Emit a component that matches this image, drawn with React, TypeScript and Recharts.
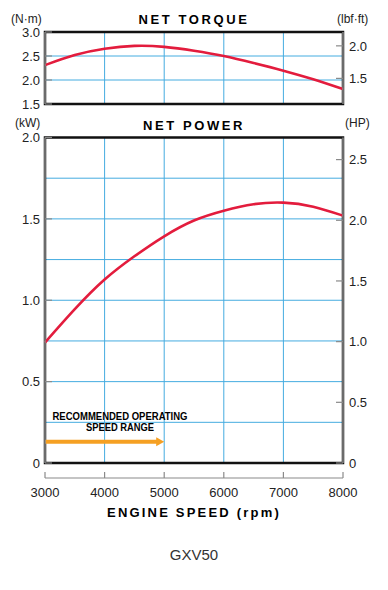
import React from "react";
import {
  LineChart,
  Line,
  XAxis,
  YAxis,
  CartesianGrid,
  ReferenceArea,
  ReferenceLine,
} from "recharts";

// engine speed (rpm)
const rpm = [3000, 3500, 4000, 4500, 5000, 5500, 6000, 6500, 7000, 7500, 8000];
// net torque, N·m
const torqueNm = [2.31, 2.52, 2.65, 2.71, 2.69, 2.61, 2.5, 2.355, 2.195, 2.015, 1.81];
// net power, kW
const powerKw = [0.74, 0.945, 1.127, 1.27, 1.393, 1.49, 1.55, 1.59, 1.6, 1.575, 1.52];

const rpmTicks = [3000, 4000, 5000, 6000, 7000, 8000];
const nmTicks = [1.5, 2.0, 2.5, 3.0];
const lbfTicks = [1.5, 2.0];
const kwTicks = [0, 0.25, 0.5, 0.75, 1.0, 1.25, 1.5, 1.75, 2.0]; // labelled every 0.5
const hpTicks = [0, 0.5, 1.0, 1.5, 2.0, 2.5];

// recommended operating speed range
const rangeStart = 3000;
const rangeEnd = 5000;
const rangeLevel = 0.13;

const NM_TO_LBF = 0.7376;
const KW_TO_HP = 1 / 0.7457;

const torqueData = rpm.map((r, i) => ({
  rpm: r,
  torque: torqueNm[i],
  torqueLbf: torqueNm[i] * NM_TO_LBF,
}));
const powerData = rpm.map((r, i) => ({
  rpm: r,
  power: powerKw[i],
  powerHp: powerKw[i] * KW_TO_HP,
}));

const FONT = "'Liberation Sans', Arial, sans-serif";
const AXIS_GRAY = "#8a8a8a";
const GRID_BLUE = "#45ace0";
const CURVE_RED = "#e31c3d";
const ORANGE = "#f5a023";

const fmt = (v: number) => (v === 0 ? "0" : v.toFixed(1));
const labelled = (v: number) => Math.abs(v * 2 - Math.round(v * 2)) < 1e-6;

const LeftTick = (props: any) => {
  const { x, y, payload } = props;
  if (!labelled(payload.value)) return <g />;
  const ax = x + 5;
  return (
    <g>
      <line x1={ax} y1={y} x2={ax + 7} y2={y} stroke={AXIS_GRAY} strokeWidth={1.2} />
      <text x={x} y={y} dy="0.36em" textAnchor="end" fontSize={13} fill="#222" fontFamily={FONT}>
        {fmt(payload.value)}
      </text>
    </g>
  );
};

const RightTick = (props: any) => {
  const { x, y, payload } = props;
  const ax = x - 6;
  return (
    <g>
      <line x1={ax - 7} y1={y} x2={ax} y2={y} stroke={AXIS_GRAY} strokeWidth={1.2} />
      <text x={x} y={y} dy="0.36em" textAnchor="start" fontSize={13} fill="#222" fontFamily={FONT}>
        {fmt(payload.value)}
      </text>
    </g>
  );
};

const BottomTick = (props: any) => {
  const { x, y, payload } = props;
  const ay = y - 10;
  return (
    <g>
      <line x1={x} y1={ay - 6} x2={x} y2={ay} stroke={AXIS_GRAY} strokeWidth={1.2} />
      <text x={x} y={y} dy="0.72em" textAnchor="middle" fontSize={13} fill="#222" fontFamily={FONT}>
        {payload.value}
      </text>
    </g>
  );
};

const RangeArrow = (props: any) => {
  const { x1, y1, x2 } = props;
  const y = y1;
  const cx = x1 + 75;
  const narrow = "'Liberation Sans Narrow', 'Arial Narrow', Arial, sans-serif";
  return (
    <g>
      <text x={cx} y={y - 22} textAnchor="middle" fontSize={11} fontWeight="bold" fontFamily={narrow}
        textLength={135} lengthAdjust="spacingAndGlyphs" fill="#000">
        RECOMMENDED OPERATING
      </text>
      <text x={cx} y={y - 11} textAnchor="middle" fontSize={11} fontWeight="bold" fontFamily={narrow}
        textLength={68} lengthAdjust="spacingAndGlyphs" fill="#000">
        SPEED RANGE
      </text>
      <line x1={x1} y1={y} x2={x2 - 7} y2={y} stroke={ORANGE} strokeWidth={4} />
      <polygon points={`${x2 - 8},${y - 4.5} ${x2},${y} ${x2 - 8},${y + 4.5}`} fill={ORANGE} />
    </g>
  );
};

const titleStyle: React.CSSProperties = {
  position: "absolute",
  left: 0,
  width: 388,
  textAlign: "center",
  fontFamily: "Arial, 'Liberation Sans', sans-serif",
  fontWeight: 900,
  fontSize: 13,
  letterSpacing: 2.6,
  color: "#000",
  lineHeight: "14px",
};

const unitStyle: React.CSSProperties = {
  position: "absolute",
  fontFamily: FONT,
  fontSize: 12,
  color: "#222",
  lineHeight: "14px",
};

export default function App() {
  return (
    <div style={{ position: "relative", width: 388, height: 590, marginLeft: -8, marginTop: -8, background: "#fff" }}>
      {/* torque chart */}
      <div style={{ position: "absolute", left: 0, top: 0 }}>
        <LineChart width={388} height={114} data={torqueData} margin={{ top: 32, right: 0, bottom: 10, left: 0 }}>
          <XAxis xAxisId="x" dataKey="rpm" type="number" domain={[3000, 8000]} ticks={rpmTicks} hide />
          <YAxis yAxisId="padL" type="number" domain={[1.5, 3]} width={15} tick={false} axisLine={false} tickLine={false} />
          <YAxis
            yAxisId="nm"
            type="number"
            domain={[1.5, 3]}
            ticks={nmTicks}
            interval={0}
            width={30}
            axisLine={{ stroke: AXIS_GRAY, strokeWidth: 1.5 }}
            tickLine={false}
            tickSize={0}
            tickMargin={5}
            tick={<LeftTick />}
          />
          <YAxis yAxisId="padR" orientation="right" type="number" domain={[1.5, 3]} width={16} tick={false} axisLine={false} tickLine={false} />
          <YAxis
            yAxisId="lbf"
            orientation="right"
            type="number"
            domain={[1.5 * NM_TO_LBF, 3 * NM_TO_LBF]}
            ticks={lbfTicks}
            interval={0}
            width={29}
            axisLine={{ stroke: AXIS_GRAY, strokeWidth: 1.5 }}
            tickLine={false}
            tickSize={0}
            tickMargin={6}
            tick={<RightTick />}
          />
          <CartesianGrid xAxisId="x" yAxisId="nm" stroke={GRID_BLUE} strokeWidth={1} />
          {/* same curve in lbf·ft, invisible, ties the right axis to the data */}
          <Line xAxisId="x" yAxisId="lbf" type="natural" dataKey="torqueLbf" stroke="none" dot={false} isAnimationActive={false} />
          <Line
            xAxisId="x"
            yAxisId="nm"
            type="natural"
            dataKey="torque"
            stroke={CURVE_RED}
            strokeWidth={2.6}
            dot={false}
            isAnimationActive={false}
          />
          <ReferenceArea xAxisId="x" yAxisId="nm" x1={3000} x2={8000} y1={1.5} y2={3} fill="none" stroke="#111" strokeWidth={2.5} />
        </LineChart>
      </div>

      {/* power chart */}
      <div style={{ position: "absolute", left: 0, top: 110 }}>
        <LineChart width={388} height={400} data={powerData} margin={{ top: 27.5, right: 0, bottom: 2, left: 0 }}>
          <XAxis xAxisId="padX" dataKey="rpm" type="number" domain={[3000, 8000]} height={15} tick={false} axisLine={false} tickLine={false} />
          <XAxis
            xAxisId="rpm"
            dataKey="rpm"
            type="number"
            domain={[3000, 8000]}
            ticks={rpmTicks}
            interval={0}
            height={30}
            axisLine={{ stroke: AXIS_GRAY, strokeWidth: 1.2 }}
            tickLine={false}
            tickSize={0}
            tickMargin={10}
            tick={<BottomTick />}
          />
          <YAxis yAxisId="padL" type="number" domain={[0, 2]} width={15} tick={false} axisLine={false} tickLine={false} />
          <YAxis
            yAxisId="kw"
            type="number"
            domain={[0, 2]}
            ticks={kwTicks}
            interval={0}
            width={30}
            axisLine={{ stroke: AXIS_GRAY, strokeWidth: 1.5 }}
            tickLine={false}
            tickSize={0}
            tickMargin={5}
            tick={<LeftTick />}
          />
          <YAxis yAxisId="padR" orientation="right" type="number" domain={[0, 2]} width={16} tick={false} axisLine={false} tickLine={false} />
          <YAxis
            yAxisId="hp"
            orientation="right"
            type="number"
            domain={[0, 2 * KW_TO_HP]}
            ticks={hpTicks}
            interval={0}
            width={29}
            axisLine={{ stroke: AXIS_GRAY, strokeWidth: 1.5 }}
            tickLine={false}
            tickSize={0}
            tickMargin={6}
            tick={<RightTick />}
          />
          <CartesianGrid xAxisId="rpm" yAxisId="kw" stroke={GRID_BLUE} strokeWidth={1} />
          <Line xAxisId="rpm" yAxisId="hp" type="natural" dataKey="powerHp" stroke="none" dot={false} isAnimationActive={false} />
          <Line
            xAxisId="rpm"
            yAxisId="kw"
            type="natural"
            dataKey="power"
            stroke={CURVE_RED}
            strokeWidth={2.6}
            dot={false}
            isAnimationActive={false}
          />
          <ReferenceLine
            xAxisId="rpm"
            yAxisId="kw"
            segment={[
              { x: rangeStart, y: rangeLevel },
              { x: rangeEnd, y: rangeLevel },
            ]}
            shape={<RangeArrow />}
          />
          <ReferenceArea xAxisId="rpm" yAxisId="kw" x1={3000} x2={8000} y1={0} y2={2} fill="none" stroke="#111" strokeWidth={2.5} />
        </LineChart>
      </div>

      <div style={{ ...titleStyle, top: 13 }}>NET TORQUE</div>
      <div style={{ ...titleStyle, top: 119 }}>NET POWER</div>
      <div style={{ ...titleStyle, top: 506, letterSpacing: 2.2 }}>ENGINE SPEED (rpm)</div>
      <div style={{ ...unitStyle, left: 11, top: 12 }}>(N·m)</div>
      <div style={{ ...unitStyle, left: 337, top: 12 }}>(lbf·ft)</div>
      <div style={{ ...unitStyle, left: 15, top: 116 }}>(kW)</div>
      <div style={{ ...unitStyle, left: 345, top: 116 }}>(HP)</div>
      <div
        style={{
          position: "absolute",
          left: 0,
          width: 388,
          top: 546,
          textAlign: "center",
          fontFamily: FONT,
          fontSize: 15,
          color: "#333",
        }}
      >
        GXV50
      </div>
    </div>
  );
}
